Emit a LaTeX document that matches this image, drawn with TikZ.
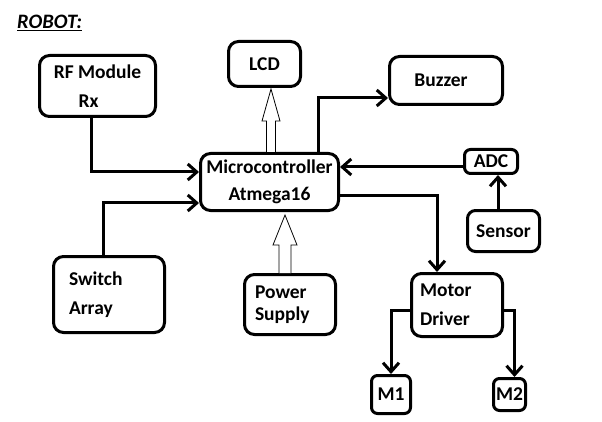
\documentclass[tikz,border=0pt]{standalone}
\usepackage{fontspec}
\setmainfont{Carlito}
\usetikzlibrary{arrows.meta}
\begin{document}
\begin{tikzpicture}[x=1pt,y=-1pt,
  box/.style={draw=black,line width=3pt,rounded corners=10pt,inner sep=0pt,
    font=\bfseries\fontsize{19.5}{29}\selectfont,align=center},
  conn/.style={draw=black,line width=3pt,-{Straight Barb[length=9pt,width=16pt]}},
  hollow/.style={draw=black,line width=0.8pt,fill=white,line join=miter}]
\useasboundingbox (0,0) rectangle (602,422);
\node[anchor=west,font=\bfseries\itshape\fontsize{20.5}{22}\selectfont,inner sep=0pt] (title) at (17,23) {\underline{ROBOT:}};
% boxes
\node[box,minimum width=116pt,minimum height=61pt] (rf) at (97.5,86) {RF Module\\\hspace*{-18pt}Rx};
\node[box,minimum width=72pt,minimum height=45pt] (lcd) at (264.5,64) {LCD};
\node[box,minimum width=113pt,minimum height=48pt] (bz) at (446,80.5) {Buzzer\hspace*{10pt}};
\node[box,minimum width=138pt,minimum height=57pt,font=\bfseries\fontsize{19.5}{27}\selectfont] (mc) at (269.5,182) {Microcontroller\\Atmega16};
\node[box,minimum width=53pt,minimum height=24pt,rounded corners=6pt] (adc) at (491,161.5) {ADC};
\node[box,minimum width=72pt,minimum height=41pt,rounded corners=8pt] (sn) at (503.5,231) {Sensor};
\node[box,minimum height=63pt,text width=74pt,inner xsep=8.5pt,align=left] (md) at (457,305) {Motor\\Driver};
\node[box,minimum width=39pt,minimum height=38pt,rounded corners=6pt] (m1) at (391,394.5) {M1};
\node[box,minimum width=32pt,minimum height=32pt,rounded corners=6pt] (m2) at (509.5,394.5) {M2};
\node[box,minimum height=76pt,text width=80pt,inner xsep=15.5pt,align=left] (sw) at (109,294.5) {Switch\\Array};
\node[box,minimum height=60pt,text width=70pt,inner xsep=10.5pt,align=left,font=\bfseries\fontsize{19.5}{22}\selectfont] (pw) at (290,304.5) {Power\\Supply};
% connectors
\draw[conn] ([xshift=-6.5pt]rf.south) |- ([yshift=10pt]mc.west);
\draw[conn] ([xshift=-6pt]sw.north) |- ([yshift=-21pt]mc.west);
\draw[conn] ([xshift=48.5pt]mc.north) |- ([yshift=-17.5pt]bz.west);
\draw[conn] ([yshift=-5.5pt]adc.west) -- ([yshift=-5.5pt]adc.west -| mc.east);
\draw[conn] ([xshift=-5.5pt]sn.north) -- ([xshift=-5.5pt]sn.north |- adc.south);
\draw[conn] ([yshift=-14pt]mc.east) -| ([xshift=-20pt]md.north);
\draw[conn] ([yshift=-5pt]md.west) -| (m1.north);
\draw[conn] ([yshift=-5pt]md.east) -| ([xshift=5pt]m2.north);
% hollow arrows
\draw[hollow] ([xshift=1.5pt]mc.north) ++(-4.5,0) -- ++(0,-31) -- ++(-4.5,0) -- ++(9,-32) -- ++(9,32) -- ++(-4.5,0) -- ++(0,31);
\draw[hollow] ([xshift=-5pt]pw.north) ++(-6,0) -- ++(0,-28) -- ++(-6,0) -- ++(12,-30) -- ++(12,30) -- ++(-6,0) -- ++(0,28);
\end{tikzpicture}
\end{document}
